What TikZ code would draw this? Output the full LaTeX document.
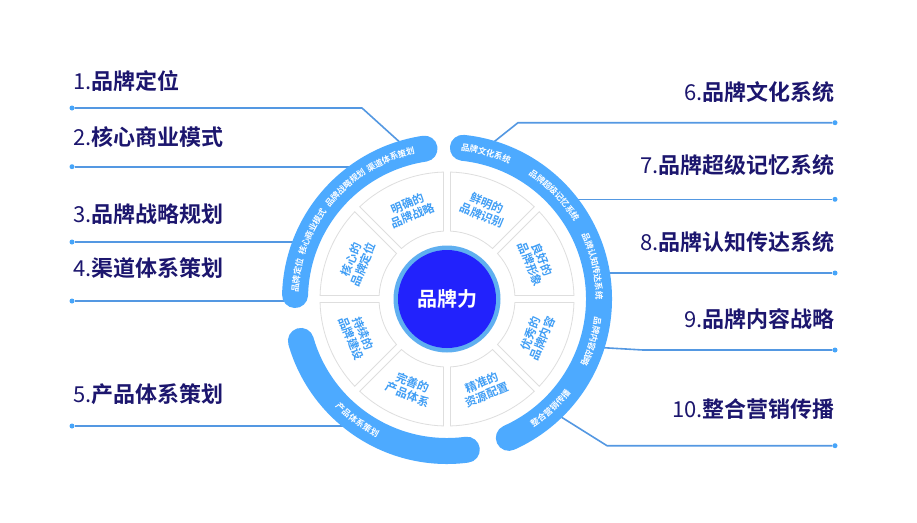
\documentclass[tikz,border=0pt]{standalone}
\usepackage{fontspec}
\newfontfamily\cjk{Noto Sans CJK SC}
\newfontfamily\cjkb{Noto Sans CJK SC Bold}
\usetikzlibrary{decorations.text}
\definecolor{bandblue}{RGB}{77,170,255}
\definecolor{linkblue}{RGB}{84,152,226}
\definecolor{dotblue}{RGB}{70,165,250}
\definecolor{navy}{RGB}{28,22,110}
\definecolor{secblue}{RGB}{64,158,245}
\definecolor{coreblue}{RGB}{34,34,252}
\definecolor{ringblue}{RGB}{95,175,240}
\definecolor{secgray}{RGB}{222,222,222}
\newcommand\labtxt[2]{{\cjk #1}{\cjkb #2}}
\newcommand\arcfont{\cjkb\fontsize{8.5pt}{9pt}\selectfont}
\tikzset{
  lbl/.style={inner sep=0pt, text=navy, font=\fontsize{22pt}{26pt}\selectfont, text height=0.82em, text depth=0.1em},
  dotnode/.style={circle, fill=dotblue, inner sep=0pt, minimum size=5pt},
  link/.style={draw=linkblue, line width=1.6pt, line join=round},
  band/.style={draw=bandblue, line width=26pt, line cap=round},
  sector/.style={draw=secgray, line width=0.8pt, fill=white},
  sectext/.style={text=secblue, align=center, inner sep=0pt, font=\cjkb\fontsize{11.5pt}{13pt}\selectfont},
  arctxt/.style={decorate, decoration={text along path, text align=center, text color=white, raise=-3.1pt}}
}
\begin{document}
\begin{tikzpicture}[x=1pt,y=1pt]
\useasboundingbox[fill=white] (0,0) rectangle (917,-522);
\coordinate (C) at (447,-299);

% ---- labels left
\node[lbl, anchor=west] (l1) at (73,-86)  {\labtxt{1.}{品牌定位}};
\node[lbl, anchor=west] (l2) at (73,-142) {\labtxt{2.}{核心商业模式}};
\node[lbl, anchor=west] (l3) at (73,-219) {\labtxt{3.}{品牌战略规划}};
\node[lbl, anchor=west] (l4) at (73,-273) {\labtxt{4.}{渠道体系策划}};
\node[lbl, anchor=west] (l5) at (73,-398.5) {\labtxt{5.}{产品体系策划}};
% ---- labels right
\node[lbl, anchor=east] (l6) at (835,-97)  {\labtxt{6.}{品牌文化系统}};
\node[lbl, anchor=east] (l7) at (835,-169.5) {\labtxt{7.}{品牌超级记忆系统}};
\node[lbl, anchor=east] (l8) at (835,-247) {\labtxt{8.}{品牌认知传达系统}};
\node[lbl, anchor=east] (l9) at (835,-323.5) {\labtxt{9.}{品牌内容战略}};
\node[lbl, anchor=east] (l10) at (835,-413.5) {\labtxt{10.}{整合营销传播}};

% ---- dots
\node[dotnode] (d1) at (72,-108) {};
\node[dotnode] (d2) at (72,-166.7) {};
\node[dotnode] (d3) at (72,-242) {};
\node[dotnode] (d4) at (72,-301) {};
\node[dotnode] (d5) at (72,-426) {};
\node[dotnode] (d6) at (835,-122.7) {};
\node[dotnode] (d7) at (835,-199.3) {};
\node[dotnode] (d8) at (835,-273) {};
\node[dotnode] (d9) at (835,-350) {};
\node[dotnode] (d10) at (835,-445.7) {};

% ---- connector bend / end points
\coordinate (k1) at (362,-108);   \coordinate (e1) at (404,-146);
\coordinate (e2) at (357,-166.7);
\coordinate (e3) at (298,-242);
\coordinate (e4) at (287,-301);
\coordinate (e5) at (350,-426);
\coordinate (k6) at (518,-122.7); \coordinate (e6) at (490,-145);
\coordinate (e7) at (572,-199.3);
\coordinate (e8) at (605,-273);
\coordinate (k9) at (643,-350);   \coordinate (e9) at (600,-347.5);
\coordinate (k10) at (607,-445.7); \coordinate (e10) at (558,-415);

\draw[link] (d1) -- (k1) -- (e1);
\draw[link] (d2) -- (e2);
\draw[link] (d3) -- (e3);
\draw[link] (d4) -- (e4);
\draw[link] (d5) -- (e5);
\draw[link] (d6) -- (k6) -- (e6);
\draw[link] (d7) -- (e7);
\draw[link] (d8) -- (e8);
\draw[link] (d9) -- (k9) -- (e9);
\draw[link] (d10) -- (k10) -- (e10);

\begin{scope}[shift={(C)}]
% ---- outer bands
\draw[band] (178.5:152pt) arc[start angle=178.5, end angle=98.5, radius=152pt];
\draw[band] (84:152pt) arc[start angle=84, end angle=-66, radius=152pt];
\draw[band] (196:152pt) arc[start angle=196, end angle=277.5, radius=152pt];

% ---- band texts (clockwise, tops outward)
\foreach \t/\th in {品牌定位/171, 核心商业模式/153.5, 品牌战略规划/132.5, 渠道体系策划/112,
                    品牌文化系统/75, 品牌超级记忆系统/44, 品牌认知传达系统/12.6, 品牌内容战略/-16.5} {
  \path[arctxt, decoration={text={|\arcfont|\t}}]
    ({\th+22}:152pt) arc[start angle={\th+22}, end angle={\th-22}, radius=152pt];
}
% ---- band texts (counter-clockwise, tops inward)
\foreach \t/\th in {整合营销传播/-46.6, 产品体系策划/233.5} {
  \path[arctxt, decoration={text={|\arcfont|\t}}]
    ({\th-22}:152pt) arc[start angle={\th-22}, end angle={\th+22}, radius=152pt];
}

% ---- sectors
\foreach \a in {0,45,...,315} {
  \draw[sector] ({\a+2.95}:68pt) arc[start angle={\a+2.95}, end angle={\a+42.05}, radius=68pt]
     -- ({\a+43.42}:127pt) arc[start angle={\a+43.42}, end angle={\a+1.58}, radius=127pt] -- cycle;
}
\node[sectext, rotate=22.5]  (s1) at (112.5:97pt) {明确的\\品牌战略};
\node[sectext, rotate=-22.5] (s2) at (67.5:97pt)  {鲜明的\\品牌识别};
\node[sectext, rotate=-67.5] (s3) at (22.5:97pt)  {良好的\\品牌形象};
\node[sectext, rotate=67.5]  (s4) at (-22.5:97pt) {优秀的\\品牌内容};
\node[sectext, rotate=22.5]  (s5) at (-67.5:97pt) {精准的\\资源配置};
\node[sectext, rotate=-22.5] (s6) at (-112.5:97pt) {完善的\\产品体系};
\node[sectext, rotate=-67.5] (s7) at (-157.5:97pt) {持续的\\品牌建设};
\node[sectext, rotate=67.5]  (s8) at (157.5:97pt) {核心的\\品牌定位};

% ---- core
\fill[ringblue] (0,0) circle[radius=53.5pt];
\fill[coreblue] (0,0) circle[radius=49pt];
\end{scope}
\node[text=white, inner sep=0pt, font=\cjkb\fontsize{20pt}{24pt}\selectfont] (core) at (C) {品牌力};
\end{tikzpicture}
\end{document}
